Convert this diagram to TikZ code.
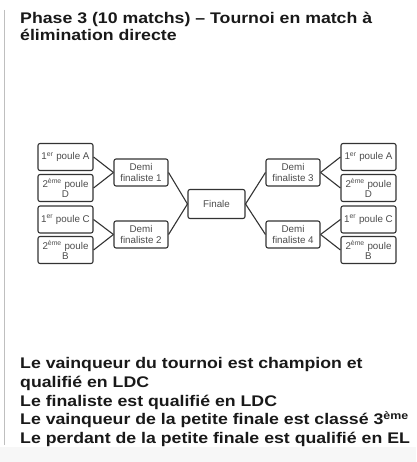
\documentclass[tikz,border=0pt]{standalone}
\usepackage{fontspec}
\setmainfont{Liberation Sans}
\newfontfamily\widefont[FakeStretch=1.15]{Liberation Sans}
\begin{document}
\begin{tikzpicture}[x=1pt,y=-1pt,
  box/.style={draw=black!80, line width=1.1pt, rounded corners=2pt, fill=white,
    minimum width=55pt, minimum height=27pt, inner sep=1pt, align=center,
    font=\fontsize{9.8}{10.5}\selectfont, text=black!70},
  demi/.style={box, minimum width=54pt, minimum height=27pt},
  link/.style={draw=black!80, line width=1.1pt},
  title/.style={anchor=north west, align=left, font=\widefont\fontsize{15.4}{17.4}\selectfont\bfseries, text=black!90, inner sep=0pt},
  body/.style={anchor=north west, align=left, font=\widefont\fontsize{15.4}{18.6}\selectfont\bfseries, text=black!90, inner sep=0pt}]
\useasboundingbox (0,0) rectangle (416,462);
\fill[black!3] (0,447) rectangle (416,462);
\draw[black!25, line width=0.8pt] (4,10) -- (4,445);
\node[title] (t) at (20,12) {Phase 3 (10 matchs) – Tournoi en match à\\élimination directe};
% left leaves
\node[box] (la) at (65.5,157) {1\textsuperscript{er} poule A};
\node[box] (ld) at (65.5,188) {2\textsuperscript{ème} poule\\D};
\node[box] (lc) at (65.5,219.5) {1\textsuperscript{er} poule C};
\node[box] (lb) at (65.5,250) {2\textsuperscript{ème} poule\\B};
% right leaves
\node[box] (ra) at (368.5,157) {1\textsuperscript{er} poule A};
\node[box] (rd) at (368.5,188) {2\textsuperscript{ème} poule\\D};
\node[box] (rc) at (368.5,219.5) {1\textsuperscript{er} poule C};
\node[box] (rb) at (368.5,250) {2\textsuperscript{ème} poule\\B};
% semis
\node[demi] (d1) at (141,172.5) {Demi\\finaliste 1};
\node[demi] (d2) at (141,234.5) {Demi\\finaliste 2};
\node[demi] (d3) at (293,172.5) {Demi\\finaliste 3};
\node[demi] (d4) at (293,234.5) {Demi\\finaliste 4};
% final
\node[box, minimum width=57pt, minimum height=29pt] (f) at (216.5,204) {Finale};
% links
\draw[link] (la.east) -- (d1.west);
\draw[link] (ld.east) -- (d1.west);
\draw[link] (lc.east) -- (d2.west);
\draw[link] (lb.east) -- (d2.west);
\draw[link] (ra.west) -- (d3.east);
\draw[link] (rd.west) -- (d3.east);
\draw[link] (rc.west) -- (d4.east);
\draw[link] (rb.west) -- (d4.east);
\draw[link] (d1.east) -- (f.west);
\draw[link] (d2.east) -- (f.west);
\draw[link] (d3.west) -- (f.east);
\draw[link] (d4.west) -- (f.east);
\node[body] (b) at (20,357.5) {Le vainqueur du tournoi est champion et\\qualifié en LDC\\Le finaliste est qualifié en LDC\\Le vainqueur de la petite finale est classé 3\textsuperscript{ème}\\Le perdant de la petite finale est qualifié en EL};
\end{tikzpicture}
\end{document}
